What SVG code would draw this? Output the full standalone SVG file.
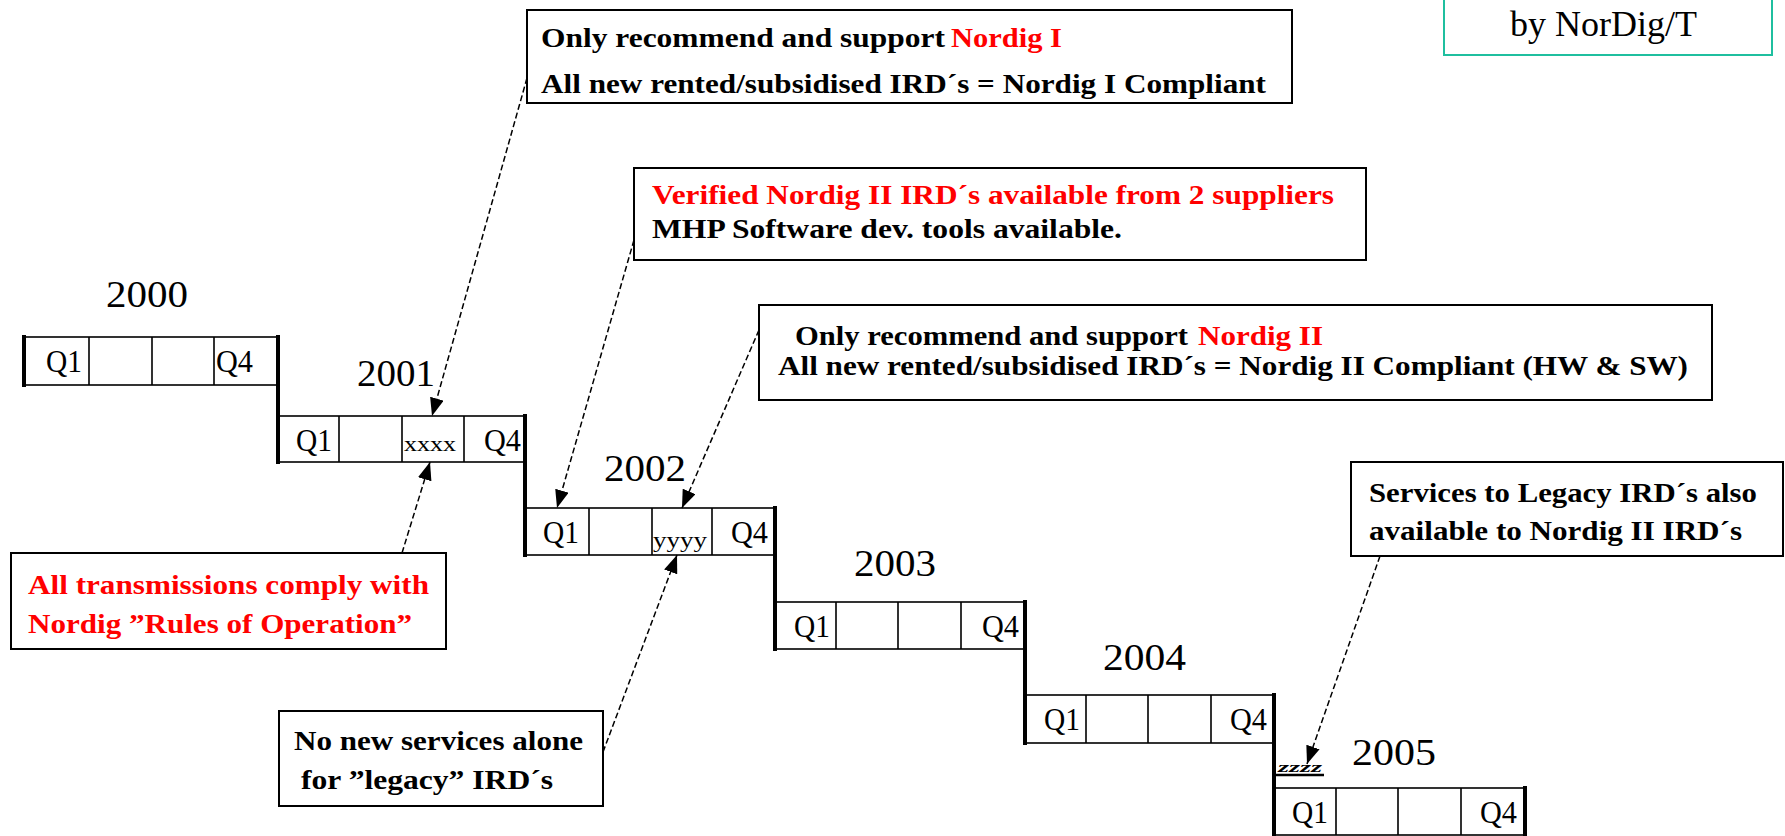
<svg xmlns="http://www.w3.org/2000/svg" width="1785" height="836" viewBox="0 0 1785 836">
<style>
.box{fill:#fff;stroke:#000;stroke-width:2}
.cell{fill:none;stroke:#000;stroke-width:1.6}
.thick{stroke:#000;stroke-width:4;stroke-linecap:square}
.q{font-family:"Liberation Serif",serif;font-size:31px;fill:#000}
.yr{font-family:"Liberation Serif",serif;font-size:37px;fill:#000}
.t{font-family:"Liberation Serif",serif;font-size:28px;font-weight:bold;fill:#000}
.r{fill:#ff0000}
.sm{font-family:"Liberation Serif",serif;font-size:21px;fill:#000}
.con{stroke:#000;stroke-width:1.5;stroke-dasharray:6 3;fill:none}
</style>
<defs>
<marker id="arr" viewBox="0 0 18 14" refX="18" refY="7" markerWidth="18" markerHeight="14" orient="auto" markerUnits="userSpaceOnUse">
<path d="M0,0 L18,7 L0,14 Z" fill="#000"/>
</marker>
</defs>
<rect width="1785" height="836" fill="#fff"/>

<g id="legend">
<rect x="1444" y="-10" width="328" height="65" fill="#fff" stroke="#1fbf9f" stroke-width="2"/>
<text x="1510" y="36" font-family="Liberation Serif,serif" font-size="36" textLength="187" lengthAdjust="spacingAndGlyphs">by NorDig/T</text>
</g>

<g id="y2000">
<rect class="cell" x="24" y="337" width="254" height="48"/>
<path class="cell" d="M89,337V385M152,337V385M214,337V385"/>
<text class="yr" x="106" y="307" textLength="82" lengthAdjust="spacingAndGlyphs">2000</text>
<text class="q" x="46" y="372" textLength="36" lengthAdjust="spacingAndGlyphs">Q1</text>
<text class="q" x="216" y="372" textLength="37" lengthAdjust="spacingAndGlyphs">Q4</text>
</g>
<g id="y2001">
<rect class="cell" x="278" y="416" width="247" height="46"/>
<path class="cell" d="M339,416V462M402,416V462M464,416V462"/>
<text class="yr" x="357" y="386" textLength="78" lengthAdjust="spacingAndGlyphs">2001</text>
<text class="q" x="296" y="451" textLength="36" lengthAdjust="spacingAndGlyphs">Q1</text>
<text class="sm" x="404" y="451" textLength="52" lengthAdjust="spacingAndGlyphs">xxxx</text>
<text class="q" x="484" y="451" textLength="37" lengthAdjust="spacingAndGlyphs">Q4</text>
</g>
<g id="y2002">
<rect class="cell" x="525" y="508" width="250" height="47"/>
<path class="cell" d="M589,508V555M652,508V555M712,508V555"/>
<text class="yr" x="604" y="481" textLength="82" lengthAdjust="spacingAndGlyphs">2002</text>
<text class="q" x="543" y="543" textLength="36" lengthAdjust="spacingAndGlyphs">Q1</text>
<text class="sm" x="653" y="547" textLength="54" lengthAdjust="spacingAndGlyphs">yyyy</text>
<text class="q" x="731" y="543" textLength="37" lengthAdjust="spacingAndGlyphs">Q4</text>
</g>
<g id="y2003">
<rect class="cell" x="775" y="602" width="250" height="47"/>
<path class="cell" d="M836,602V649M898,602V649M961,602V649"/>
<text class="yr" x="854" y="576" textLength="82" lengthAdjust="spacingAndGlyphs">2003</text>
<text class="q" x="794" y="637" textLength="36" lengthAdjust="spacingAndGlyphs">Q1</text>
<text class="q" x="982" y="637" textLength="37" lengthAdjust="spacingAndGlyphs">Q4</text>
</g>
<g id="y2004">
<rect class="cell" x="1025" y="695" width="249" height="48"/>
<path class="cell" d="M1086,695V743M1148,695V743M1211,695V743"/>
<text class="yr" x="1103" y="670" textLength="83" lengthAdjust="spacingAndGlyphs">2004</text>
<text class="q" x="1044" y="730" textLength="36" lengthAdjust="spacingAndGlyphs">Q1</text>
<text class="q" x="1230" y="730" textLength="37" lengthAdjust="spacingAndGlyphs">Q4</text>
</g>
<g id="y2005">
<rect class="cell" x="1274" y="788" width="251" height="47"/>
<path class="cell" d="M1336,788V835M1398,788V835M1461,788V835"/>
<text class="yr" x="1352" y="765" textLength="84" lengthAdjust="spacingAndGlyphs">2005</text>
<text class="q" x="1292" y="823" textLength="36" lengthAdjust="spacingAndGlyphs">Q1</text>
<text class="q" x="1480" y="823" textLength="37" lengthAdjust="spacingAndGlyphs">Q4</text>
<text x="1278" y="772" font-family="Liberation Serif,serif" font-size="14" font-style="italic" font-weight="bold" textLength="44" lengthAdjust="spacingAndGlyphs">zzzz</text>
<line x1="1276" y1="775" x2="1324" y2="775" stroke="#000" stroke-width="2.5"/>
</g>
<g id="steps">
<path class="thick" d="M24,337V385M278,337V462M525,416V555M775,508V649M1025,602V743M1274,695V836M1525,788V836"/>
</g>

<g id="box1">
<rect class="box" x="527" y="10" width="765" height="93"/>
<text class="t" x="541" y="47" textLength="404" lengthAdjust="spacingAndGlyphs">Only recommend and support</text>
<text class="t r" x="951" y="47" textLength="111" lengthAdjust="spacingAndGlyphs">Nordig I</text>
<text class="t" x="541" y="93" textLength="725" lengthAdjust="spacingAndGlyphs">All new rented/subsidised IRD´s = Nordig I Compliant</text>
</g>
<g id="box2">
<rect class="box" x="634" y="168" width="732" height="92"/>
<text class="t r" x="652" y="204" textLength="682" lengthAdjust="spacingAndGlyphs">Verified Nordig II IRD´s available from 2 suppliers</text>
<text class="t" x="652" y="238" textLength="470" lengthAdjust="spacingAndGlyphs">MHP Software dev. tools available.</text>
</g>
<g id="box3">
<rect class="box" x="759" y="305" width="953" height="95"/>
<text class="t" x="795" y="345" textLength="393" lengthAdjust="spacingAndGlyphs">Only recommend and support</text>
<text class="t r" x="1198" y="345" textLength="125" lengthAdjust="spacingAndGlyphs">Nordig II</text>
<text class="t" x="778" y="375" textLength="910" lengthAdjust="spacingAndGlyphs">All new rented/subsidised IRD´s = Nordig II Compliant (HW &amp; SW)</text>
</g>
<g id="box4">
<rect class="box" x="1351" y="462" width="432" height="94"/>
<text class="t" x="1369" y="502" textLength="388" lengthAdjust="spacingAndGlyphs">Services to Legacy IRD´s also</text>
<text class="t" x="1369" y="540" textLength="373" lengthAdjust="spacingAndGlyphs">available to Nordig II IRD´s</text>
</g>
<g id="box5">
<rect class="box" x="11" y="553" width="435" height="96"/>
<text class="t r" x="28" y="594" textLength="401" lengthAdjust="spacingAndGlyphs">All transmissions comply with</text>
<text class="t r" x="28" y="633" textLength="384" lengthAdjust="spacingAndGlyphs">Nordig ”Rules of Operation”</text>
</g>
<g id="box6">
<rect class="box" x="279" y="711" width="324" height="95"/>
<text class="t" x="294" y="750" textLength="289" lengthAdjust="spacingAndGlyphs">No new services alone</text>
<text class="t" x="301" y="789" textLength="252" lengthAdjust="spacingAndGlyphs">for ”legacy” IRD´s</text>
</g>

<g id="connectors">
<line class="con" x1="527" y1="78" x2="432" y2="416" marker-end="url(#arr)"/>
<line class="con" x1="634" y1="240" x2="557" y2="508" marker-end="url(#arr)"/>
<line class="con" x1="759" y1="330" x2="682" y2="508" marker-end="url(#arr)"/>
<line class="con" x1="402" y1="553" x2="430" y2="462" marker-end="url(#arr)"/>
<line class="con" x1="603" y1="752" x2="677" y2="555" marker-end="url(#arr)"/>
<line class="con" x1="1380" y1="556" x2="1307" y2="764" marker-end="url(#arr)"/>
</g>
</svg>
